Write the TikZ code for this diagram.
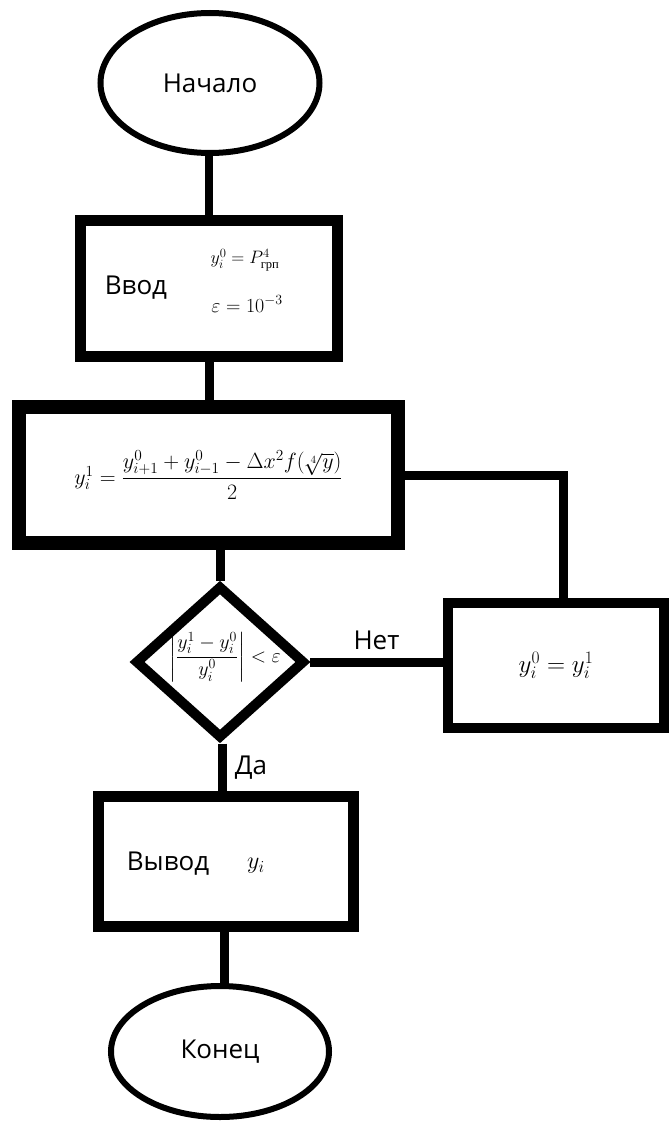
\documentclass[tikz,border=0pt]{standalone}
\usepackage{fix-cm}
\usepackage{amsmath}
\usepackage{fontspec}
\setmainfont{Open Sans}
\newfontfamily\cyrserif{Liberation Serif}
\usetikzlibrary{shapes.geometric}

\newcommand{\bigtext}{\fontsize{26}{30}\selectfont}
\newcommand{\mathsize}[1]{\fontsize{#1}{#1}\selectfont}

\tikzset{
  term/.style={ellipse, draw, line width=6pt, inner sep=0pt, font=\bigtext},
  block/.style={rectangle, draw, line width=11pt, inner sep=0pt},
  cond/.style={diamond, draw, line width=10pt, inner sep=0pt},
  link/.style={line width=9pt},
}

\begin{document}
\begin{tikzpicture}[x=1pt, y=-1pt]
  \useasboundingbox (0, 0) rectangle (669, 1124);

  \node[term, minimum width=219pt, minimum height=140pt] (start) at (210, 83) {Начало};

  \node[block, minimum width=257pt, minimum height=136pt] (input) at (209, 288.5) {};
  \node[font=\bigtext] (inlabel) at (136, 288) {Ввод};
  \node[font=\mathsize{18}] (inval) at (245, 260) {$y_i^0 = P^4_{\text{\cyrserif грп}}$};
  \node[font=\mathsize{20}] (ineps) at (247, 304) {$\varepsilon = 10^{-3}$};

  \node[block, line width=14pt, minimum width=379pt, minimum height=136pt, font=\mathsize{22}]
    (calc) at (208.5, 475)
    {$y_i^1 = \dfrac{y^0_{i+1} + y^0_{i-1} - \Delta x^2 f(\sqrt[4]{y})}{2}$};

  \node[cond, minimum width=170pt, minimum height=153pt] (check) at (220, 662) {};
  \node[font=\mathsize{20}] (checkval) at (225, 657)
    {$\left|\dfrac{y_i^1 - y_i^0}{y_i^0}\right| < \varepsilon$};

  \node[block, line width=10pt, minimum width=216pt, minimum height=125pt, font=\mathsize{25}]
    (update) at (556, 665.5) {$y_i^0 = y_i^1$};

  \node[block, minimum width=255pt, minimum height=130pt] (output) at (226, 861.5) {};
  \node[font=\bigtext] (outlabel) at (168, 864) {Вывод};
  \node[font=\mathsize{24}] (outval) at (256, 866) {$y_i$};

  \node[term, minimum width=218pt, minimum height=131pt] (finish) at (220, 1051.5) {Конец};

  \draw[link, line width=8pt] (input.north) -- (input.north |- start.south);
  \draw[link] (input.south) -- (input.south |- calc.north);
  \draw[link] (check.north) -- (check.north |- calc.south);
  \draw[link] (calc.east) -| ([xshift=7pt]update.north);
  \draw[link] (check.east) -- node[above=4pt, font=\bigtext] (no) {Нет} (check.east -| update.west);
  \draw[link] ([xshift=2pt]check.south) -- node[right=5pt, font=\bigtext] (yes) {Да}
    ([xshift=2pt]check.south |- output.north);
  \draw[link] ([xshift=-2pt]output.south) -- ([xshift=-2pt]output.south |- finish.north);
\end{tikzpicture}
\end{document}
